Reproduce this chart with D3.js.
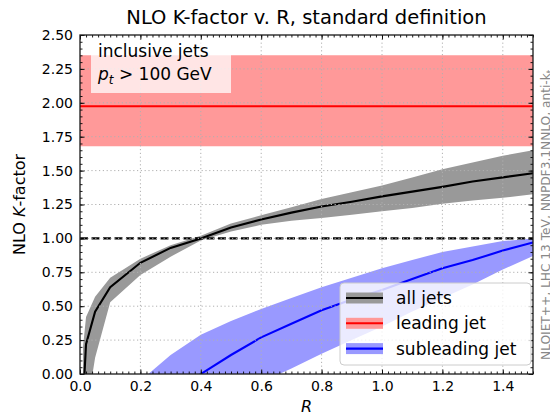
<!DOCTYPE html>
<html>
<head>
<meta charset="utf-8">
<script src="https://cdn.jsdelivr.net/npm/d3@7"></script>
<style>
  body { margin: 0; background: #fff; }
  svg { font-family: "DejaVu Sans", sans-serif; }
</style>
</head>
<body>
<div id="chart"></div>
<script>
// R grid and K-factor values
const allR = [0.01, 0.02, 0.05, 0.1, 0.2, 0.3, 0.4, 0.5, 0.6, 0.7, 0.8, 0.9, 1.0, 1.1, 1.2, 1.3, 1.4, 1.5];
const allK = [-0.2, 0.22, 0.46, 0.64, 0.82, 0.93, 1.0, 1.08, 1.14, 1.19, 1.235, 1.27, 1.31, 1.345, 1.38, 1.42, 1.45, 1.48];
const allLo = [-0.8, -0.3, 0.12, 0.53, 0.73, 0.865, 0.985, 1.05, 1.1, 1.13, 1.15, 1.175, 1.2, 1.225, 1.255, 1.28, 1.3, 1.325];
const allHi = [0.2, 0.42, 0.57, 0.71, 0.85, 0.95, 1.02, 1.11, 1.17, 1.23, 1.29, 1.34, 1.39, 1.45, 1.51, 1.56, 1.61, 1.65];

const leadR = [0.0, 0.1, 0.2, 0.3, 0.4, 0.5, 0.6, 0.7, 0.8, 0.9, 1.0, 1.1, 1.2, 1.3, 1.4, 1.5];
const leadK = [1.975, 1.975, 1.975, 1.975, 1.975, 1.975, 1.975, 1.975, 1.975, 1.975, 1.975, 1.975, 1.975, 1.975, 1.975, 1.975];
const leadLo = [1.68, 1.68, 1.68, 1.68, 1.68, 1.68, 1.68, 1.68, 1.68, 1.68, 1.68, 1.68, 1.68, 1.68, 1.68, 1.68];
const leadHi = [2.35, 2.35, 2.35, 2.35, 2.35, 2.35, 2.35, 2.35, 2.35, 2.35, 2.35, 2.35, 2.35, 2.35, 2.35, 2.35];

const subR = [0.2, 0.3, 0.4, 0.5, 0.6, 0.7, 0.8, 0.9, 1.0, 1.1, 1.2, 1.3, 1.4, 1.5];
const subK = [-0.35, -0.17, 0.0, 0.14, 0.27, 0.37, 0.47, 0.55, 0.62, 0.70, 0.78, 0.84, 0.91, 0.97];
const subLo = [-0.9, -0.6, -0.4, -0.2, -0.06, 0.04, 0.15, 0.25, 0.35, 0.46, 0.56, 0.66, 0.77, 0.87];
const subHi = [-0.05, 0.14, 0.29, 0.39, 0.48, 0.56, 0.64, 0.71, 0.78, 0.84, 0.90, 0.94, 0.98, 1.0];

const xTicks = [0, 0.2, 0.4, 0.6, 0.8, 1.0, 1.2, 1.4];
const yTicks = [0, 0.25, 0.5, 0.75, 1.0, 1.25, 1.5, 1.75, 2.0, 2.25, 2.5];
const legendNames = ['all jets', 'leading jet', 'subleading jet'];

const W = 550, H = 416;
const L = 80, R = 533, T = 35, B = 374;

const svg = d3.select('#chart').append('svg').attr('width', W).attr('height', H);
const x = d3.scaleLinear().domain([0, 1.5]).range([L, R]);
const y = d3.scaleLinear().domain([0, 2.5]).range([B, T]);

svg.append('defs').append('clipPath').attr('id', 'plot')
  .append('rect').attr('x', L).attr('y', T).attr('width', R - L).attr('height', B - T);

const series = [
  { r: allR, k: allK, lo: allLo, hi: allHi, line: '#000000', fill: '#999999' },
  { r: leadR, k: leadK, lo: leadLo, hi: leadHi, line: '#ff0000', fill: '#ff9999' },
  { r: subR, k: subK, lo: subLo, hi: subHi, line: '#0000ff', fill: '#9999ff' }
];

const plot = svg.append('g').attr('clip-path', 'url(#plot)');

// bands
const area = d3.area().x(d => x(d[0])).y0(d => y(d[1])).y1(d => y(d[2]));
series.forEach(s => {
  plot.append('path')
    .datum(s.r.map((r, i) => [r, s.lo[i], s.hi[i]]))
    .attr('d', area)
    .attr('fill', s.fill);
});

// grid
const grid = svg.append('g').attr('stroke', '#b0b0b0').attr('stroke-width', 1)
  .attr('stroke-dasharray', '1.2,2.6');
xTicks.filter(t => t > 0).forEach(t => {
  grid.append('line').attr('x1', x(t)).attr('x2', x(t)).attr('y1', T).attr('y2', B);
});
yTicks.filter(t => t > 0 && t < 2.5).forEach(t => {
  grid.append('line').attr('x1', L).attr('x2', R).attr('y1', y(t)).attr('y2', y(t));
});

// central lines
const line = d3.line().x(d => x(d[0])).y(d => y(d[1]));
series.forEach(s => {
  plot.append('path')
    .datum(s.r.map((r, i) => [r, s.k[i]]))
    .attr('d', line)
    .attr('fill', 'none')
    .attr('stroke', s.line)
    .attr('stroke-width', 2.1);
});

// reference line at K = 1
plot.append('line')
  .attr('x1', L).attr('x2', R).attr('y1', y(1)).attr('y2', y(1))
  .attr('stroke', '#000').attr('stroke-width', 2.1).attr('stroke-dasharray', '8,3.5');

// axes with inward ticks on all sides
const xMinor = d3.range(0, 1.5001, 0.02);
const yMinor = d3.range(0, 2.5001, 0.05);
function addAxis(axisFn, scale, ticks, minor, pos, fmt, labels) {
  const g = svg.append('g').attr('transform', pos);
  g.call(axisFn(scale).tickValues(minor).tickSize(-2.5).tickFormat(''));
  const gMaj = svg.append('g').attr('transform', pos);
  gMaj.call(axisFn(scale).tickValues(ticks).tickSize(-4.5).tickPadding(7)
    .tickFormat(labels ? fmt : ''));
  [g, gMaj].forEach(a => {
    a.select('.domain').remove();
    a.selectAll('line').attr('stroke', '#000').attr('stroke-width', 0.9);
    a.selectAll('text').attr('font-size', 14).attr('fill', '#000')
      .attr('font-family', '"DejaVu Sans", sans-serif');
  });
  return gMaj;
}
addAxis(d3.axisBottom, x, xTicks, xMinor, `translate(0,${B})`, d3.format('.1f'), true);
addAxis(d3.axisTop, x, xTicks, xMinor, `translate(0,${T})`, d3.format('.1f'), false);
addAxis(d3.axisLeft, y, yTicks, yMinor, `translate(${L},0)`, d3.format('.2f'), true);
addAxis(d3.axisRight, y, yTicks, yMinor, `translate(${R},0)`, d3.format('.2f'), false);

svg.append('rect').attr('x', L).attr('y', T).attr('width', R - L).attr('height', B - T)
  .attr('fill', 'none').attr('stroke', '#1a1a1a').attr('stroke-width', 1.3);

// title and axis labels
svg.append('text').attr('x', (L + R) / 2).attr('y', 24).attr('text-anchor', 'middle')
  .attr('font-size', 19.5).text('NLO K-factor v. R, standard definition');

svg.append('text').attr('x', (L + R) / 2).attr('y', 412).attr('text-anchor', 'middle')
  .attr('font-size', 16).attr('font-style', 'italic').text('R');

const yl = svg.append('text')
  .attr('transform', `translate(25,${(T + B) / 2}) rotate(-90)`)
  .attr('text-anchor', 'middle').attr('font-size', 16);
yl.append('tspan').text('NLO ');
yl.append('tspan').attr('font-style', 'italic').text('K');
yl.append('tspan').text('-factor');

// info box
svg.append('rect').attr('x', 91).attr('y', 40).attr('width', 140).attr('height', 53)
  .attr('fill', '#fff').attr('fill-opacity', 0.75);
svg.append('text').attr('x', 98).attr('y', 57).attr('font-size', 17).text('inclusive jets');
const pt = svg.append('text').attr('x', 98).attr('y', 80).attr('font-size', 17);
pt.append('tspan').attr('font-style', 'italic').text('p');
pt.append('tspan').attr('font-style', 'italic').attr('font-size', 12).attr('dy', 4).text('t');
pt.append('tspan').attr('dy', -4).text(' > 100 GeV');

// legend
const lg = svg.append('g');
lg.append('rect').attr('x', 340).attr('y', 283).attr('width', 191).attr('height', 82)
  .attr('rx', 4).attr('fill', '#fff').attr('fill-opacity', 0.8)
  .attr('stroke', '#cccccc').attr('stroke-width', 1);
legendNames.forEach((name, i) => {
  const cy = 298 + i * 25.3;
  const s = series[i];
  lg.append('rect').attr('x', 346).attr('y', cy - 5.5).attr('width', 37).attr('height', 11)
    .attr('fill', s.fill);
  lg.append('line').attr('x1', 346).attr('x2', 383).attr('y1', cy).attr('y2', cy)
    .attr('stroke', s.line).attr('stroke-width', 2.1);
  lg.append('text').attr('x', 396).attr('y', cy + 6).attr('font-size', 17).text(name);
});

// generator note on the right edge, partly past the page edge as in the original
const note = svg.append('text')
  .attr('transform', 'translate(550,360) rotate(-90)')
  .attr('font-size', 12.2).attr('fill', '#888888');
note.append('tspan').text('NLOJET++, LHC 13 TeV, NNPDF3.1NNLO, anti-k');
note.append('tspan').attr('font-size', 9).attr('dy', 3).text('t');
</script>
</body>
</html>
